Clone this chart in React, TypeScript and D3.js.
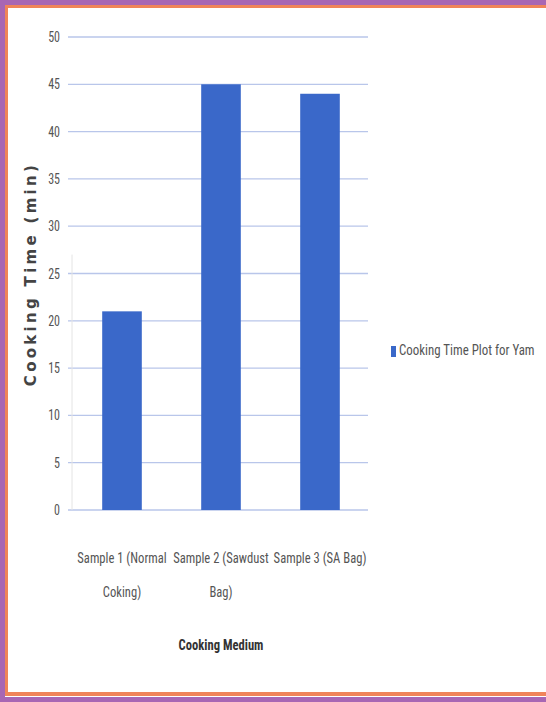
import React from "react";
import * as d3 from "d3";

const categories = ["Sample 1 (Normal Coking)", "Sample 2 (Sawdust Bag)", "Sample 3 (SA Bag)"];
const categoryLines = [["Sample 1 (Normal", "Coking)"], ["Sample 2 (Sawdust", "Bag)"], ["Sample 3 (SA Bag)"]];
const values = [21, 45, 44];
const yTicks = [0, 5, 10, 15, 20, 25, 30, 35, 40, 45, 50];
const seriesName = "Cooking Time Plot for Yam";
const yTitle = "Cooking Time (min)";
const xTitle = "Cooking Medium";

const W = 546, H = 702;
const plot = { left: 68, right: 368, top: 37, bottom: 510 };
const narrow = "'Liberation Sans Narrow', 'Arial Narrow', 'Roboto Condensed', sans-serif";

function NText({ x, y, sx = 0.86, anchor = "middle", children, ...rest }: any) {
  return (
    <g transform={`translate(${x},${y}) scale(${sx},1)`}>
      <text x={0} y={0} textAnchor={anchor} fontFamily={narrow} {...rest}>
        {children}
      </text>
    </g>
  );
}

export default function App() {
  const x = d3.scaleBand<string>().domain(categories).range([72.5, 369.5]).paddingInner(0.6).paddingOuter(0.3);
  const y = d3.scaleLinear().domain([0, 50]).range([plot.bottom, plot.top]);
  return (
    <svg width={W} height={H} style={{ position: "absolute", left: 0, top: 0, display: "block" }}>
      <rect x={0} y={0} width={W} height={H} fill="#ffffff" />
      {/* frame */}
      <rect x={0} y={0} width={W} height={5} fill="#a866b4" />
      <rect x={0} y={0} width={5} height={H} fill="#a866b4" />
      <rect x={0} y={697} width={W} height={5} fill="#a866b4" />
      <rect x={5} y={5} width={W} height={3} fill="#f0845a" />
      <rect x={5} y={5} width={3} height={690} fill="#f0845a" />
      <rect x={5} y={692} width={W} height={4} fill="#f0845a" />
      {/* grid */}
      {yTicks.map((t) => (
        <g key={t}>
          <line x1={plot.left} x2={plot.right} y1={y(t)} y2={y(t)} stroke="#b9c6ea" strokeWidth={1.3} />
          <NText x={60} y={y(t) + 5} anchor="end" fontSize={15} fill="#555" sx={0.8}>
            {t}
          </NText>
        </g>
      ))}
      <line x1={plot.left + 4} x2={plot.left + 4} y1={y(27)} y2={plot.bottom} stroke="#e4e4e4" strokeWidth={1} />
      {/* bars */}
      {categories.map((c, i) => (
        <rect key={c} x={x(c)} y={y(values[i])} width={x.bandwidth()} height={y(0) - y(values[i])} fill="#3a68c9" />
      ))}
      {/* x labels */}
      {categories.map((c, i) =>
        categoryLines[i].map((ln, j) => (
          <NText key={c + j} x={x(c)! + x.bandwidth() / 2} y={563 + j * 34} fontSize={15} fill="#555" sx={0.84}>
            {ln}
          </NText>
        ))
      )}
      <NText x={221} y={650} fontSize={15} fontWeight="bold" fill="#333" sx={0.84}>
        {xTitle}
      </NText>
      <text
        transform={`translate(36, 274) rotate(-90)`}
        textAnchor="middle"
        fontFamily="'DejaVu Sans', Verdana, sans-serif"
        fontSize={15}
        fontWeight="bold"
        letterSpacing={3.3}
        fill="#444"
      >
        {yTitle}
      </text>
      {/* legend */}
      <rect x={391} y={346} width={5} height={11} fill="#3a68c9" />
      <NText x={399} y={355} anchor="start" fontSize={15} fill="#555" sx={0.86}>
        {seriesName}
      </NText>
    </svg>
  );
}
